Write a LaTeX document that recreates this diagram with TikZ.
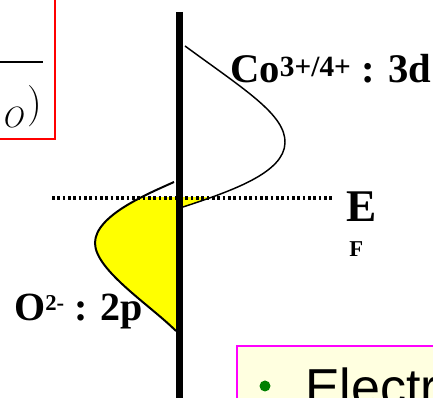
\documentclass[tikz,border=0pt]{standalone}
\usepackage{fontspec}
\setmainfont{Liberation Serif}
\newfontfamily\arialfont{Liberation Sans}
\newfontfamily\lmfont{Latin Modern Roman}
\usetikzlibrary{positioning}
\definecolor{Band}{HTML}{FFFF00}
\definecolor{PaleNote}{HTML}{FFFFE0}
\definecolor{Pink}{HTML}{FF00FF}
\definecolor{Leaf}{HTML}{008000}

\begin{document}
\begin{tikzpicture}[x=0.75pt,y=-0.75pt,
  dos/.style={draw=black,line width=1.1pt},
  lbl/.style={font=\bfseries\fontsize{30.5}{31}\selectfont,anchor=base west,inner sep=0pt},
  fermi/.style={line width=2.6pt,dash pattern=on 2pt off 2pt}
]
  \clip (0,0) rectangle (433,398);

  % formula box, cut by the page edge
  \draw[red,line width=1.2pt] (-20,-20) rectangle (55,139);
  \draw[line width=0.8pt] (-20,62) -- (43,62);
  \node[anchor=base east,inner sep=0pt,font=\lmfont\fontsize{31}{31}\selectfont] (frm) at (42,116.5)
    {\raisebox{-8pt}{\fontsize{22}{22}\selectfont\itshape O}\kern3pt)};

  % occupied states below E_F
  \begin{scope}
    \clip (0,198) rectangle (433,260);
    \fill[Band] (185,46) .. controls (245,90) and (286,115) .. (285,143)
      .. controls (284,172) and (235,190) .. (183,207) -- cycle;
  \end{scope}
  \begin{scope}
    \clip (0,198) rectangle (433,398);
    \fill[Band] (174,182) .. controls (150,193) and (95,215) .. (95,243)
      .. controls (95,270) and (150,305) .. (176,331) -- (176,182) -- cycle;
  \end{scope}

  % densities of states
  \draw[dos] (185,46) .. controls (245,90) and (286,115) .. (285,143)
    .. controls (284,172) and (235,190) .. (183,207);
  \draw[dos,line width=1.5pt] (174,182) .. controls (150,193) and (95,215) .. (95,243)
    .. controls (95,270) and (150,305) .. (176,331);

  % Fermi level and axis
  \draw[fermi] (52,198) -- (333,198);
  \draw[line width=5.2pt] (179.5,12) -- (179.5,400);

  \node[lbl] (co) at (230,83) {Co\raisebox{4.5pt}{\fontsize{22}{22}\selectfont 3+/4+} : 3d};
  \node[lbl,font=\bfseries\fontsize{30}{30}\selectfont] (ox) at (14,321) {O\raisebox{8pt}{\fontsize{17}{17}\selectfont 2-} : 2p};
  \node[lbl,font=\bfseries\fontsize{34}{34}\selectfont] (ef) at (346,222) {E};
  \node[lbl,font=\bfseries\fontsize{17}{17}\selectfont] (ff) at (349,257) {F};

  % note box, cut by the page edge
  \draw[Pink,fill=PaleNote,line width=1.5pt] (237,346) rectangle (460,420);
  \fill[Leaf] (265,386) circle (5.5);
  \node[anchor=base west,inner sep=0pt,font=\arialfont\fontsize{39}{39}\selectfont] (txt) at (305,406) {Electro};
\end{tikzpicture}
\end{document}
